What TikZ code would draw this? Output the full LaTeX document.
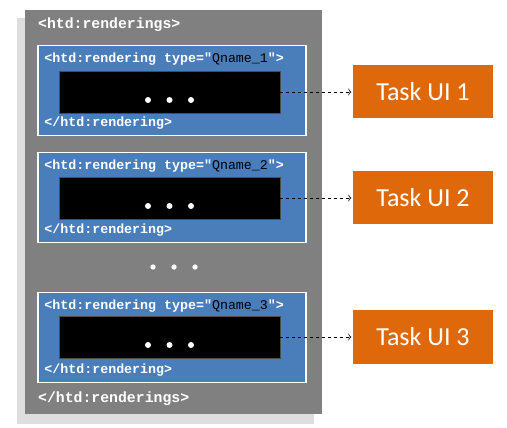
\documentclass[tikz,border=0pt]{standalone}
\usepackage{fontspec}
\setmonofont{Liberation Mono}
\newfontfamily\taskfont{Carlito}
\usetikzlibrary{positioning,arrows.meta}

\definecolor{boxgray}{HTML}{808080}
\definecolor{shadegray}{HTML}{C8C8C8}
\definecolor{xmlblue}{HTML}{4A7EBB}
\definecolor{taskorange}{HTML}{DF690A}

\tikzset{
  rendering/.style={fill=xmlblue, draw=white, line width=1.5pt, minimum width=268pt, minimum height=90pt, inner sep=0pt},
  uibox/.style={fill=black, draw=black!70, line width=0.8pt, minimum width=221pt, minimum height=42pt, inner sep=0pt},
  tasknode/.style={fill=taskorange, draw=white, line width=1.5pt, minimum width=142pt, minimum height=55pt, font=\taskfont\fontsize{26}{26}\selectfont, text=white},
  tag/.style={font=\ttfamily\bfseries\fontsize{13.3}{14}\selectfont, text=white, inner sep=0pt, anchor=west},
  link/.style={dashed, semithick, -{To[length=3pt,width=7pt]}}
}

\newcommand{\qn}[1]{{\mdseries\color{black}#1}}

\begin{document}
\begin{tikzpicture}[x=1pt, y=-1pt]
\useasboundingbox (0,0) rectangle (507,428);

% shadow and outer box
\fill[shadegray, opacity=0.6] (17,18) rectangle (314,424);
\node[fill=boxgray, minimum width=297pt, minimum height=404pt, inner sep=0pt] (renderings) at (173.5,212) {};
\node[tag, font=\ttfamily\bfseries\fontsize{14.8}{15}\selectfont] (open) at (38,25) {<htd:renderings>};
\node[tag, font=\ttfamily\bfseries\fontsize{14.8}{15}\selectfont] (close) at (38,399) {</htd:renderings>};

% renderings
\node[rendering] (rend1) at (172,90.5) {};
\node[rendering] (rend2) at (172,197.5) {};
\node[rendering] (rend3) at (172,337.5) {};

\node[tag] (head1) at ([xshift=7pt,yshift=-14pt]rend1.north west) {<htd:rendering type="\qn{Qname\_1}">};
\node[tag] (head2) at ([xshift=7pt,yshift=-14pt]rend2.north west) {<htd:rendering type="\qn{Qname\_2}">};
\node[tag] (head3) at ([xshift=7pt,yshift=-14pt]rend3.north west) {<htd:rendering type="\qn{Qname\_3}">};
\node[tag] (foot1) at ([xshift=7pt,yshift=13pt]rend1.south west) {</htd:rendering>};
\node[tag] (foot2) at ([xshift=7pt,yshift=13pt]rend2.south west) {</htd:rendering>};
\node[tag] (foot3) at ([xshift=7pt,yshift=13pt]rend3.south west) {</htd:rendering>};

\node[uibox] (ui1) at (169.5,92) {};
\node[uibox] (ui2) at (169.5,198) {};
\node[uibox] (ui3) at (169.5,337) {};

% dots
\foreach \u in {ui1,ui2,ui3} {
  \fill[white] ([xshift=-21.5pt,yshift=-8pt]\u.center) circle (3pt);
  \fill[white] ([yshift=-8pt]\u.center) circle (3pt);
  \fill[white] ([xshift=21.5pt,yshift=-8pt]\u.center) circle (3pt);
}
\fill[white] (153,267) circle (2.7pt);
\fill[white] (174,267) circle (2.7pt);
\fill[white] (195,267) circle (2.7pt);

% task UIs
\node[tasknode] (task1) at (423,91.5) {Task UI 1};
\node[tasknode] (task2) at (423,197.5) {Task UI 2};
\node[tasknode] (task3) at (423,337) {Task UI 3};

\draw[link] (ui1.east) -- (task1.west |- ui1.east);
\draw[link] (ui2.east) -- (task2.west |- ui2.east);
\draw[link] (ui3.east) -- (task3.west |- ui3.east);
\end{tikzpicture}
\end{document}
